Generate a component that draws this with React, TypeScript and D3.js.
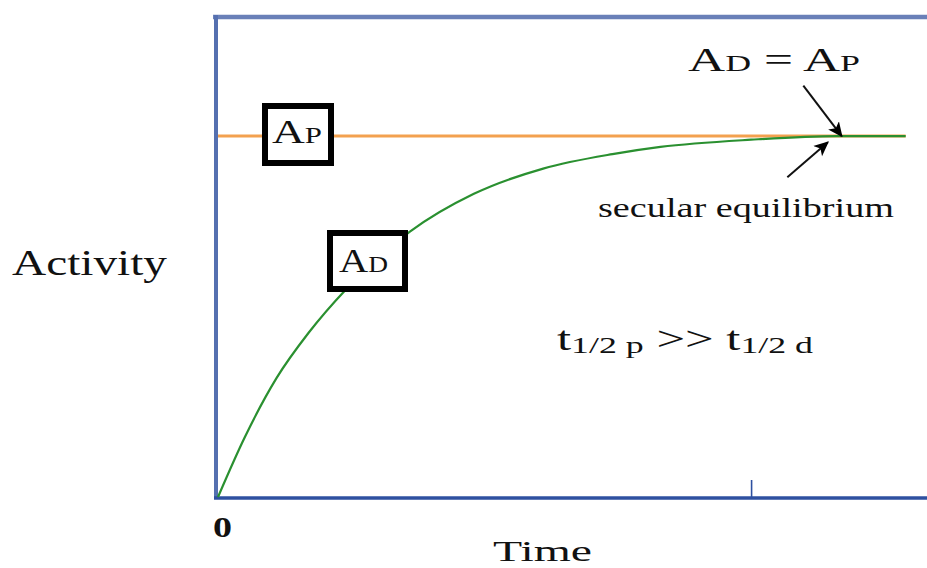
import { useRef, useEffect } from 'react';
import * as d3 from 'd3';

// time in daughter half-lives, activity relative to the parent activity A_P
const timeValues = [0, 0.25, 0.55, 0.85, 1.2, 1.8, 2.4, 3.05, 3.7, 4.15, 5.0, 5.8, 6.45];
const daughterActivity = [0, 0.165, 0.33, 0.455, 0.575, 0.735, 0.84, 0.91, 0.95, 0.97, 0.99, 1.0, 1.0];
const parentTime = [0, 6.45];
const parentActivity = [1, 1];
const tickValues = [5];
const originLabel = '0';

type Part = [string, number, number];

function App() {

    const svgRef = useRef<SVGSVGElement>(null);

    useEffect(() => {
        document.body.style.margin = '0';
        document.body.style.overflow = 'hidden';

        const width = 927;
        const height = 568;
        const serif = "'Liberation Serif', 'Times New Roman', serif";

        if (!svgRef.current) return;
        const svg = d3.select(svgRef.current)
            .attr('width', width)
            .attr('height', height)
            .attr('viewBox', [0, 0, width, height].join(' '))
            .style('display', 'block')
            .style('background', '#fff');

        svg.selectAll('*').remove();

        const x = d3.scaleLinear().domain([0, 6.65]).range([218, 927]);
        const y = d3.scaleLinear().domain([0, 1.33]).range([497, 17]);

        //Arrow head
        svg.append('defs').append('marker')
            .attr('id', 'head')
            .attr('viewBox', '0 0 10 10')
            .attr('refX', 9)
            .attr('refY', 5)
            .attr('markerWidth', 7.5)
            .attr('markerHeight', 7.5)
            .attr('markerUnits', 'strokeWidth')
            .attr('orient', 'auto')
            .append('path')
            .attr('d', 'M0,0.5 L10,5 L0,9.5 L2.5,5 Z')
            .attr('fill', '#000');

        //Frame: top and left in a lighter blue
        svg.append('line')
            .attr('x1', x(0) - 5).attr('x2', width)
            .attr('y1', y(1.33)).attr('y2', y(1.33))
            .attr('stroke', '#6a80b8').attr('stroke-width', 4.5);
        svg.append('line')
            .attr('x1', x(0) - 2).attr('x2', x(0) - 2)
            .attr('y1', y(1.33) - 2).attr('y2', y(0) + 2)
            .attr('stroke', '#5570b0').attr('stroke-width', 4);

        //Time axis with one tick pointing up
        const axis = svg.append('g')
            .attr('transform', `translate(0,${y(0) + 1})`)
            .call(d3.axisTop(x).tickValues(tickValues).tickSize(18).tickSizeOuter(0).tickFormat(() => ''));
        axis.select('.domain')
            .attr('d', `M${x(0) - 4},0H${width}`)
            .attr('stroke', '#2e50a0').attr('stroke-width', 3.5);
        axis.selectAll('.tick line').attr('stroke', '#2e50a0').attr('stroke-width', 1.6);

        //Parent activity
        const line = d3.line<[number, number]>()
            .x(d => x(d[0]))
            .y(d => y(d[1]));
        svg.append('path')
            .datum(parentTime.map((t, i) => [t, parentActivity[i]] as [number, number]))
            .attr('d', line)
            .attr('fill', 'none')
            .attr('stroke', '#f3a14f')
            .attr('stroke-width', 3);

        //Daughter activity
        const curve = d3.line<[number, number]>()
            .x(d => x(d[0]))
            .y(d => y(d[1]))
            .curve(d3.curveMonotoneX);
        svg.append('path')
            .datum(timeValues.map((t, i) => [t, daughterActivity[i]] as [number, number]))
            .attr('d', curve)
            .attr('fill', 'none')
            .attr('stroke', '#2a9030')
            .attr('stroke-width', 2.2);

        //Text with sub parts, stretched to the picture's width
        function label(x0: number, y0: number, parts: Part[], length: number, weight = 'normal') {
            const t = svg.append('text')
                .attr('x', x0)
                .attr('y', y0)
                .attr('font-family', serif)
                .attr('font-weight', weight)
                .attr('fill', '#111')
                .attr('textLength', length)
                .attr('lengthAdjust', 'spacingAndGlyphs');
            parts.forEach(([s, size, dy]) => {
                t.append('tspan')
                    .attr('font-size', size)
                    .attr('dy', dy)
                    .text(s);
            });
            return t;
        }

        //Boxed labels
        const boxes = [
            { x0: 265, y0: 106, w: 66, h: 57, text: [['A', 34, 0], ['P', 23, 0]] as Part[], tx: 272, ty: 143, len: 50 },
            { x0: 330, y0: 233, w: 75, h: 56, text: [['A', 34, 0], ['D', 23, 0]] as Part[], tx: 339, ty: 272, len: 49 },
        ];
        boxes.forEach(b => {
            svg.append('rect')
                .attr('x', b.x0).attr('y', b.y0)
                .attr('width', b.w).attr('height', b.h)
                .attr('fill', '#fff')
                .attr('stroke', '#000')
                .attr('stroke-width', 6);
            label(b.tx, b.ty, b.text, b.len);
        });

        label(12, 275, [['Activity', 35, 0]], 155);
        label(213, 537, [[originLabel, 30, 0]], 19, 'bold');
        label(493, 561, [['Time', 30, 0]], 99);

        label(688, 71, [['A', 33, 0], ['D', 23, 0], [' = A', 33, 0], ['P', 23, 0]], 172);
        label(598, 217, [['secular equilibrium', 28, 0]], 296);
        label(557, 350, [['t', 34, 0], ['1/2', 24, 3], [' p', 24, 0], [' >> ', 34, -3], ['t', 34, 0], ['1/2', 24, 3], [' d', 24, 0]], 256);

        //Arrows to the point of equilibrium
        const arrows = [
            { from: [5.49, 1.14], to: [5.85, 1.0] },
            { from: [5.34, 0.886], to: [5.72, 0.983] },
        ];
        arrows.forEach(a => {
            svg.append('line')
                .attr('x1', x(a.from[0])).attr('y1', y(a.from[1]))
                .attr('x2', x(a.to[0])).attr('y2', y(a.to[1]))
                .attr('stroke', '#111')
                .attr('stroke-width', 2)
                .attr('marker-end', 'url(#head)');
        });

    }, []);

    return <svg ref={svgRef} />;
}

export default App;
